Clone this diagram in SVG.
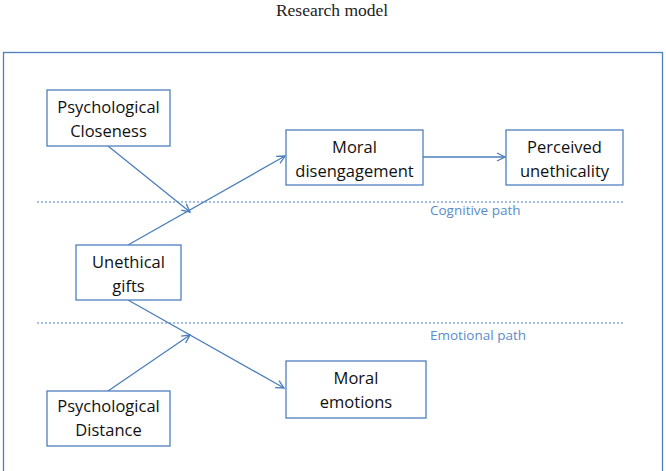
<svg xmlns="http://www.w3.org/2000/svg" width="666" height="471" viewBox="0 0 666 471">
<defs>
<marker id="ah" viewBox="0 0 10 10" refX="9" refY="5" markerWidth="10" markerHeight="10" markerUnits="userSpaceOnUse" orient="auto">
<path d="M1,1 L9,5 L1,9" fill="none" stroke="#4a7ebb" stroke-width="1.3"/>
</marker>
<style>
.box{fill:#fff;stroke:#4f7fbf;stroke-width:1.3}
.t{font-family:"Open Sans","Liberation Sans",sans-serif;font-size:16.5px;fill:#111;text-anchor:middle}
.c{stroke:#4a7ebb;stroke-width:1.3;fill:none}
.dot{stroke:#4f7fbf;stroke-width:1;stroke-dasharray:2,2}
.lab{font-family:"Open Sans","Liberation Sans",sans-serif;font-size:13.5px;fill:#5b8bc9}
</style>
</defs>
<rect width="666" height="471" fill="#fff"/>
<text x="332" y="16" font-family="Liberation Serif,serif" font-size="17.5" text-anchor="middle" fill="#222">Research model</text>
<rect x="3.5" y="52.5" width="659" height="440" fill="none" stroke="#4f7fbf" stroke-width="1.3"/>
<g id="guides">
<line class="dot" x1="37" y1="202" x2="623" y2="202"/>
<line class="dot" x1="37" y1="323" x2="623" y2="323"/>
<text class="lab" x="430" y="215">Cognitive path</text>
<text class="lab" x="430" y="340">Emotional path</text>
</g>
<g id="connectors">
<line class="c" x1="128" y1="245" x2="285" y2="156" marker-end="url(#ah)"/>
<line class="c" x1="108" y1="146" x2="190" y2="212" marker-end="url(#ah)"/>
<line class="c" x1="128" y1="300" x2="284" y2="388" marker-end="url(#ah)"/>
<line class="c" x1="108" y1="391" x2="190" y2="335" marker-end="url(#ah)"/>
<line class="c" x1="423" y1="157" x2="505" y2="157" marker-end="url(#ah)"/>
</g>
<g id="n-closeness">
<rect class="box" x="47" y="90" width="123" height="56"/>
<text class="t" x="108.5" y="113">Psychological</text>
<text class="t" x="108.5" y="137">Closeness</text>
</g>
<g id="n-disengagement">
<rect class="box" x="286" y="130" width="137" height="55"/>
<text class="t" x="354.5" y="153">Moral</text>
<text class="t" x="354.5" y="177">disengagement</text>
</g>
<g id="n-unethicality">
<rect class="box" x="506" y="130" width="117" height="55"/>
<text class="t" x="564.5" y="153">Perceived</text>
<text class="t" x="564.5" y="177">unethicality</text>
</g>
<g id="n-gifts">
<rect class="box" x="76" y="245" width="105" height="55"/>
<text class="t" x="128.5" y="268">Unethical</text>
<text class="t" x="128.5" y="292">gifts</text>
</g>
<g id="n-emotions">
<rect class="box" x="286" y="361" width="140" height="57"/>
<text class="t" x="356" y="384">Moral</text>
<text class="t" x="356" y="408">emotions</text>
</g>
<g id="n-distance">
<rect class="box" x="47" y="391" width="123" height="55"/>
<text class="t" x="108.5" y="412">Psychological</text>
<text class="t" x="108.5" y="436">Distance</text>
</g>
</svg>
